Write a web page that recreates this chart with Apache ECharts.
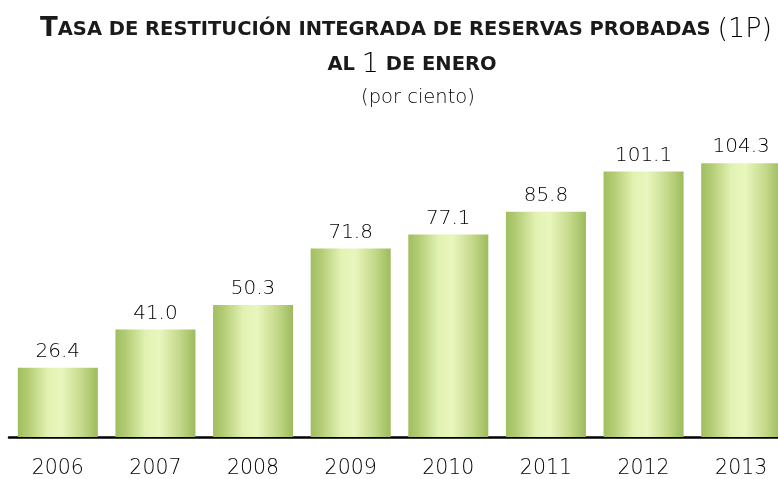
<!DOCTYPE html>
<html><head><meta charset="utf-8">
<script src="https://cdn.jsdelivr.net/npm/echarts@6/dist/echarts.min.js"></script>
<style>html,body{margin:0;padding:0;background:#fff;overflow:hidden;width:778px;height:479px}#c{width:790px;height:479px}</style>
</head><body><div id="c"></div>
<script>
var years = ['2006','2007','2008','2009','2010','2011','2012','2013'];
var values = [26.4, 41.0, 50.3, 71.8, 77.1, 85.8, 101.1, 104.3];

var chart = echarts.init(document.getElementById('c'), null, {renderer:'canvas'});
var TF = '"DejaVu Sans", sans-serif';
var NF = '"DejaVu Sans", sans-serif';
var grad = new echarts.graphic.LinearGradient(0,0,1,0,[
  {offset:0, color:'#a0be60'},
  {offset:0.12, color:'#b2cb72'},
  {offset:0.38, color:'#e2f2b3'},
  {offset:0.55, color:'#e9f6bd'},
  {offset:0.8, color:'#c4d98a'},
  {offset:1, color:'#9dbb5d'}
]);
chart.setOption({
  animation:false,
  title:[
    {text:'{b|T}{s|ASA DE RESTITUCIÓN INTEGRADA DE RESERVAS PROBADAS }{p|(1P)}', left:401, textAlign:'center', top:11,
     textStyle:{rich:{
       b:{fontFamily:TF,fontSize:26,fontWeight:'bold',color:'#1a1a1a'},
       s:{fontFamily:TF,fontSize:19.5,fontWeight:'bold',color:'#1a1a1a'},
       p:{fontFamily:TF,fontSize:27,fontWeight:200,color:'#000'}
     }}},
    {text:'{s|AL }{p|1}{s| DE ENERO}', left:407, textAlign:'center', top:46,
     textStyle:{rich:{
       s:{fontFamily:TF,fontSize:19.5,fontWeight:'bold',color:'#1a1a1a'},
       p:{fontFamily:TF,fontSize:27,fontWeight:200,color:'#000'}
     }}},
    {text:'(por ciento)', left:413, textAlign:'center', top:83,
     textStyle:{fontFamily:TF,fontSize:19.5,fontWeight:200,color:'#000'}}
  ],
  grid:{left:9, right:0, top:122, bottom:41, containLabel:false},
  xAxis:{type:'category', data:years,
    axisLine:{lineStyle:{color:'#000',width:2.5}},
    axisTick:{show:false},
    axisLabel:{fontFamily:NF,fontSize:20.5,fontWeight:200,color:'#000',margin:21}},
  yAxis:{type:'value', min:0, max:120, show:false, splitLine:{show:false}},
  series:[{type:'bar', data:values, barWidth:80,
    itemStyle:{color:grad},
    label:{show:true, position:'top', distance:6, fontFamily:NF, fontSize:20, fontWeight:200, color:'#000',
      formatter:function(p){return p.value.toFixed(1);}}}]
});
</script></body></html>
